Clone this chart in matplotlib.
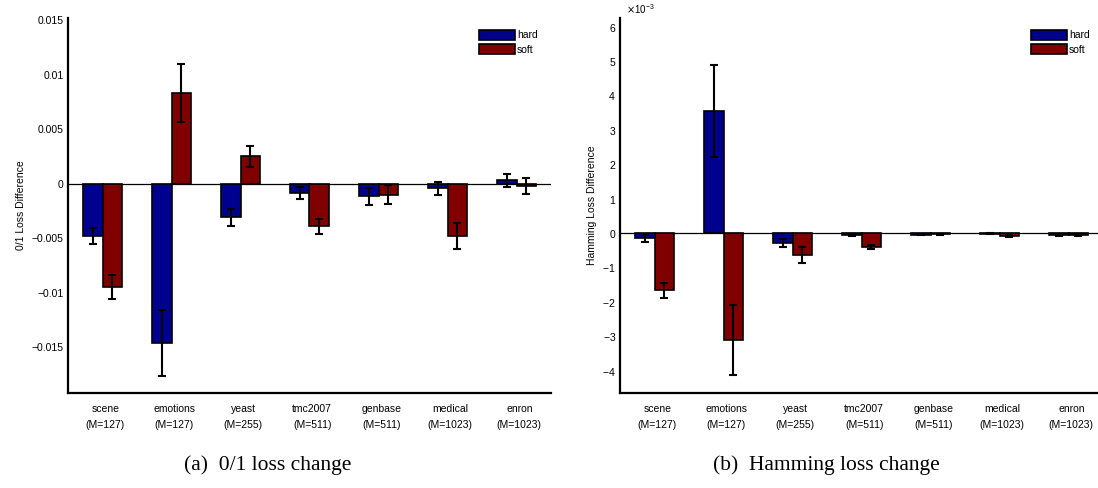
import matplotlib
matplotlib.use("Agg")
import matplotlib.pyplot as plt
import numpy as np
from matplotlib.ticker import MultipleLocator, FuncFormatter, ScalarFormatter

plt.rcParams['font.family'] = ['Liberation Sans', 'DejaVu Sans']

datasets = ["scene\n(M=127)", "emotions\n(M=127)", "yeast\n(M=255)", "tmc2007\n(M=511)",
            "genbase\n(M=511)", "medical\n(M=1023)", "enron\n(M=1023)"]

# 0/1 loss difference
zo_hard = [-0.0048, -0.0146, -0.0031, -0.00085, -0.00115, -0.0004, 0.0003]
zo_hard_err = [0.0007, 0.0030, 0.00075, 0.00055, 0.00078, 0.0006, 0.00056]
zo_soft = [-0.0095, 0.0083, 0.0025, -0.0039, -0.0010, -0.0048, -0.0002]
zo_soft_err = [0.0011, 0.00265, 0.0010, 0.0007, 0.0009, 0.0012, 0.00073]

# Hamming loss difference
ham_hard = [-0.15e-3, 3.55e-3, -0.29e-3, -0.07e-3, -0.05e-3, -0.02e-3, -0.06e-3]
ham_hard_err = [0.10e-3, 1.33e-3, 0.13e-3, 0.03e-3, 0.02e-3, 0.02e-3, 0.02e-3]
ham_soft = [-1.665e-3, -3.11e-3, -0.65e-3, -0.41e-3, -0.04e-3, -0.08e-3, -0.07e-3]
ham_soft_err = [0.22e-3, 1.02e-3, 0.23e-3, 0.05e-3, 0.02e-3, 0.03e-3, 0.03e-3]

hard_color = "#00008f"
soft_color = "#800000"
W, H = 1098, 488

fig = plt.figure(figsize=(W / 100, H / 100), dpi=100)


def draw_panel(ax, hard, hard_err, soft, soft_err, ylabel):
    x = np.arange(1, len(datasets) + 1)
    w = 0.28
    ax.bar(x - w / 2, hard, w, color=hard_color, edgecolor="black", linewidth=1.2,
           label="hard", zorder=2)
    ax.bar(x + w / 2, soft, w, color=soft_color, edgecolor="black", linewidth=1.2,
           label="soft", zorder=2)
    ax.errorbar(x - w / 2, hard, yerr=hard_err, fmt="none", ecolor="black",
                elinewidth=1.5, capsize=3.2, capthick=1.5, zorder=3)
    ax.errorbar(x + w / 2, soft, yerr=soft_err, fmt="none", ecolor="black",
                elinewidth=1.5, capsize=3.2, capthick=1.5, zorder=3)
    ax.axhline(0, color="black", linewidth=0.9, zorder=1)
    ax.set_xlim(0.5, len(datasets) + 0.5)
    ax.set_xticks(x + 0.04)
    ax.set_xticklabels(datasets, fontsize=7.5, linespacing=1.75)
    ax.tick_params(axis="both", length=0, labelsize=7.5)
    ax.tick_params(axis="x", pad=8)
    ax.tick_params(axis="y", pad=3)
    for s in ["top", "right"]:
        ax.spines[s].set_visible(False)
    for s in ["left", "bottom"]:
        ax.spines[s].set_linewidth(1.6)
    ax.set_ylabel(ylabel, fontsize=7.5, labelpad=4)
    ax.legend(loc="upper right", bbox_to_anchor=(0.985, 0.985), frameon=False,
              fontsize=7.5, handlelength=3.4, handleheight=1.1, handletextpad=0.2,
              labelspacing=0.35, borderaxespad=0.2)


def minus_fmt(v, pos):
    if abs(v) < 1e-12:
        return "0"
    return ("%g" % v).replace("-", "\u2212")


# (a) 0/1 loss
ax1 = fig.add_axes([68 / W, 1 - 393 / H, 483 / W, 375 / H])
draw_panel(ax1, zo_hard, zo_hard_err, zo_soft, zo_soft_err, "0/1 Loss Difference")
ax1.set_ylim(-0.0192, 0.0152)
ax1.yaxis.set_major_locator(MultipleLocator(0.005))
ax1.yaxis.set_major_formatter(FuncFormatter(minus_fmt))

# (b) Hamming loss
ax2 = fig.add_axes([620 / W, 1 - 393 / H, 483 / W, 375 / H])
draw_panel(ax2, ham_hard, ham_hard_err, ham_soft, ham_soft_err, "Hamming Loss Difference")
ax2.set_ylim(-4.65e-3, 6.25e-3)
ax2.yaxis.set_major_locator(MultipleLocator(1e-3))
fmt = ScalarFormatter(useMathText=True)
fmt.set_powerlimits((0, 0))
ax2.yaxis.set_major_formatter(fmt)
ax2.yaxis.get_offset_text().set_fontsize(7)
ax2.yaxis.get_offset_text().set_x(0.012)

fig.text(268 / W, 1 - 465 / H, "(a)  0/1 loss change", family="Liberation Serif",
         fontsize=15.5, ha="center", va="center")
fig.text(826 / W, 1 - 465 / H, "(b)  Hamming loss change", family="Liberation Serif",
         fontsize=15.5, ha="center", va="center")

fig.savefig("out.png", dpi=100)
